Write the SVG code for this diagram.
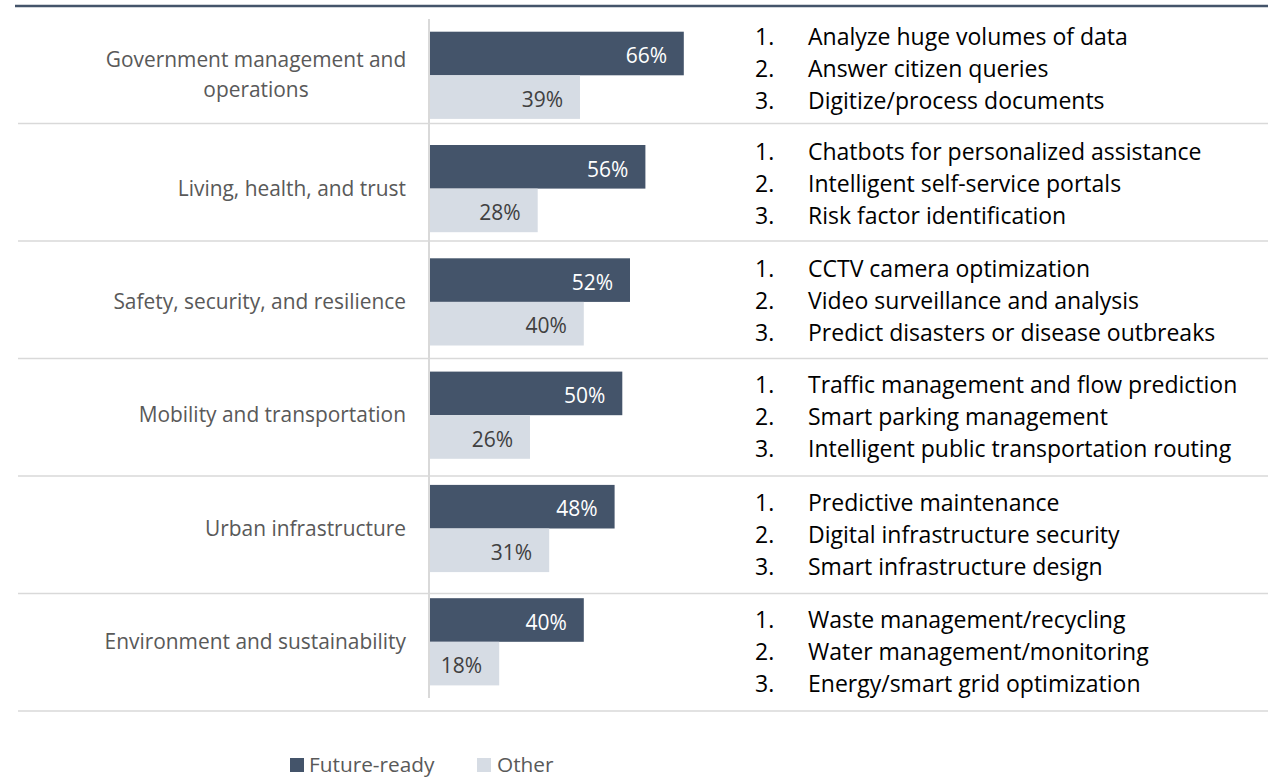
<svg xmlns="http://www.w3.org/2000/svg" width="1268" height="778" viewBox="0 0 1268 778">
<style>
.fr{fill:#44546A}
.ot{fill:#D6DCE4}
.div{stroke:#D9D9D9;stroke-width:1.5;fill:none}
.cat{font-family:"Open Sans","Liberation Sans",sans-serif;font-size:20.9px;fill:#595959;text-anchor:end}
.cat0{font-family:"Open Sans","Liberation Sans",sans-serif;font-size:20.9px;fill:#595959;text-anchor:middle}
.vw{font-family:"Open Sans","Liberation Sans",sans-serif;font-size:21px;fill:#FFFFFF;text-anchor:end}
.vd{font-family:"Open Sans","Liberation Sans",sans-serif;font-size:21px;fill:#404040;text-anchor:end}
.li{font-family:"Open Sans","Liberation Sans",sans-serif;font-size:23px;fill:#000000}
.lg{font-family:"Open Sans","Liberation Sans",sans-serif;font-size:20.8px;fill:#595959}
</style>
<rect width="1268" height="778" fill="#FFFFFF"/>
<g id="frame">
<line x1="15" y1="6" x2="1268" y2="6" stroke="#44546A" stroke-width="2.5"/>
<line class="div" x1="18" y1="123.5" x2="1268" y2="123.5"/>
<line class="div" x1="18" y1="241" x2="1268" y2="241"/>
<line class="div" x1="18" y1="358.5" x2="1268" y2="358.5"/>
<line class="div" x1="18" y1="476" x2="1268" y2="476"/>
<line class="div" x1="18" y1="593.5" x2="1268" y2="593.5"/>
<line class="div" x1="18" y1="711" x2="1268" y2="711"/>
<line x1="429" y1="19" x2="429" y2="698" stroke="#D9D9D9" stroke-width="2"/>
</g>
<g id="row-government">
<text class="cat0" x="256" y="67">Government management and</text>
<text class="cat0" x="256" y="97">operations</text>
<rect class="fr" x="430" y="31.7" width="253.8" height="43.6"/>
<rect class="ot" x="430" y="75.3" width="150" height="43.6"/>
<text class="vw" x="667" y="63.2">66%</text>
<text class="vd" x="563" y="106.8">39%</text>
<text class="li" x="755" y="45">1.</text><text class="li" x="808" y="45">Analyze huge volumes of data</text>
<text class="li" x="755" y="77">2.</text><text class="li" x="808" y="77">Answer citizen queries</text>
<text class="li" x="755" y="109">3.</text><text class="li" x="808" y="109">Digitize/process documents</text>
</g>
<g id="row-living">
<text class="cat" x="406" y="195.6">Living, health, and trust</text>
<rect class="fr" x="430" y="145" width="215.4" height="43.6"/>
<rect class="ot" x="430" y="188.6" width="107.7" height="43.6"/>
<text class="vw" x="628.4" y="176.5">56%</text>
<text class="vd" x="520.7" y="220.1">28%</text>
<text class="li" x="755" y="160">1.</text><text class="li" x="808" y="160">Chatbots for personalized assistance</text>
<text class="li" x="755" y="192">2.</text><text class="li" x="808" y="192">Intelligent self-service portals</text>
<text class="li" x="755" y="224">3.</text><text class="li" x="808" y="224">Risk factor identification</text>
</g>
<g id="row-safety">
<text class="cat" x="406" y="308.9">Safety, security, and resilience</text>
<rect class="fr" x="430" y="258.3" width="200" height="43.6"/>
<rect class="ot" x="430" y="301.9" width="153.8" height="43.6"/>
<text class="vw" x="613" y="289.8">52%</text>
<text class="vd" x="566.8" y="333.4">40%</text>
<text class="li" x="755" y="276.5">1.</text><text class="li" x="808" y="276.5">CCTV camera optimization</text>
<text class="li" x="755" y="308.5">2.</text><text class="li" x="808" y="308.5">Video surveillance and analysis</text>
<text class="li" x="755" y="340.5">3.</text><text class="li" x="808" y="340.5">Predict disasters or disease outbreaks</text>
</g>
<g id="row-mobility">
<text class="cat" x="406" y="422.2">Mobility and transportation</text>
<rect class="fr" x="430" y="371.6" width="192.3" height="43.6"/>
<rect class="ot" x="430" y="415.2" width="100" height="43.6"/>
<text class="vw" x="605.3" y="403.1">50%</text>
<text class="vd" x="513" y="446.7">26%</text>
<text class="li" x="755" y="393.3">1.</text><text class="li" x="808" y="393.3">Traffic management and flow prediction</text>
<text class="li" x="755" y="425.3">2.</text><text class="li" x="808" y="425.3">Smart parking management</text>
<text class="li" x="755" y="457.3">3.</text><text class="li" x="808" y="457.3">Intelligent public transportation routing</text>
</g>
<g id="row-urban">
<text class="cat" x="406" y="535.5">Urban infrastructure</text>
<rect class="fr" x="430" y="484.9" width="184.6" height="43.6"/>
<rect class="ot" x="430" y="528.5" width="119.2" height="43.6"/>
<text class="vw" x="597.6" y="516.4">48%</text>
<text class="vd" x="532.2" y="560">31%</text>
<text class="li" x="755" y="510.8">1.</text><text class="li" x="808" y="510.8">Predictive maintenance</text>
<text class="li" x="755" y="542.8">2.</text><text class="li" x="808" y="542.8">Digital infrastructure security</text>
<text class="li" x="755" y="574.8">3.</text><text class="li" x="808" y="574.8">Smart infrastructure design</text>
</g>
<g id="row-environment">
<text class="cat" x="406" y="648.8">Environment and sustainability</text>
<rect class="fr" x="430" y="598.2" width="153.8" height="43.6"/>
<rect class="ot" x="430" y="641.8" width="69.2" height="43.6"/>
<text class="vw" x="566.8" y="629.7">40%</text>
<text class="vd" x="482.2" y="673.3">18%</text>
<text class="li" x="755" y="628.3">1.</text><text class="li" x="808" y="628.3">Waste management/recycling</text>
<text class="li" x="755" y="660.3">2.</text><text class="li" x="808" y="660.3">Water management/monitoring</text>
<text class="li" x="755" y="692.3">3.</text><text class="li" x="808" y="692.3">Energy/smart grid optimization</text>
</g>
<g id="legend">
<rect class="fr" x="290" y="758" width="14" height="14"/>
<text class="lg" x="309" y="772">Future-ready</text>
<rect class="ot" x="477" y="758" width="14" height="14"/>
<text class="lg" x="497" y="772">Other</text>
</g>
</svg>
